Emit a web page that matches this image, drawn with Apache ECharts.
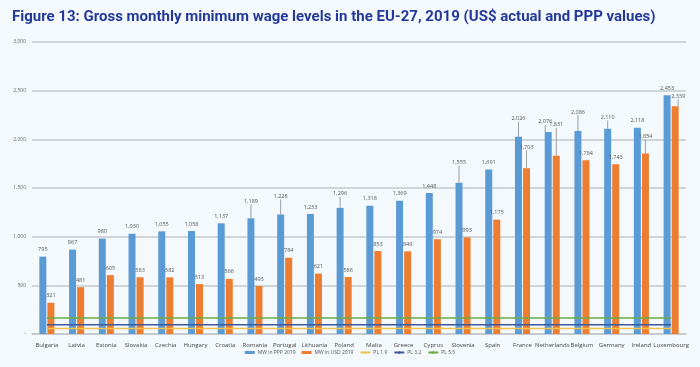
<!DOCTYPE html>
<html><head><meta charset="utf-8">
<script src="https://cdn.jsdelivr.net/npm/echarts@6/dist/echarts.min.js"></script>
<style>html,body{margin:0;padding:0;background:#f4f9fd;}#c{width:700px;height:367px;}</style>
</head><body><div id="c"></div>
<script>
const countries = ['Bulgaria','Latvia','Estonia','Slovakia','Czechia','Hungary','Croatia','Romania','Portugal','Lithuania','Poland','Malta','Greece','Cyprus','Slovenia','Spain','France','Netherlands','Belgium','Germany','Ireland','Luxembourg'];
const mwPPP = [795,867,980,1030,1055,1058,1137,1189,1228,1233,1296,1318,1369,1448,1555,1691,2026,2076,2086,2110,2118,2453];
const mwUSD = [321,481,605,583,582,513,566,493,784,621,586,853,849,974,993,1175,1703,1831,1784,1743,1854,2339];
const pl19 = 57, pl32 = 96, pl55 = 165;

// label nudges (layout only): [dx, dy]
const pppShift = {7:[0,-10],8:[0,-11],10:[0,-7],14:[0,-13],16:[0,-11],17:[-3,-3],18:[0,-12],19:[0,-4]};
const usdShift = {16:[0,-14],17:[0,-24],20:[0,-10],21:[3,-3]};

const fmt = v => v.toLocaleString('en-US');
function mk(arr, shifts){
  return arr.map((v,i)=> ({value:v, labelLine:{show: !!shifts[i]}}));
}
const chart = echarts.init(document.getElementById('c'));
const labelStyle = {show:true, position:'top', distance:4, fontSize:5.5, color:'#555', fontFamily:'Open Sans', formatter:p=>fmt(p.value)};
chart.setOption({
  backgroundColor:'#f4f9fd',
  animation:false,
  title:{text:'Figure 13: Gross monthly minimum wage levels in the EU-27, 2019 (US$ actual and PPP values)', left:7, top:5,
    textStyle:{fontFamily:'Roboto', fontWeight:'bold', fontSize:15, color:'#24399a'}},
  legend:{bottom:7, left:'center', itemGap:6, itemWidth:10, itemHeight:3, textStyle:{fontSize:5, color:'#555', fontFamily:'Open Sans', padding:[0,0,0,-2]},
    data:[{name:'MW in PPP 2019', icon:'rect'},{name:'MW in USD 2019', icon:'rect'},{name:'PL 1.9'},{name:'PL 3.2'},{name:'PL 5.5'}]},
  grid:{left:32, right:14, top:42, bottom:33},
  xAxis:{type:'category', data:countries, axisTick:{show:false}, axisLine:{lineStyle:{color:'#c4c8cc', width:1.5}},
    axisLabel:{fontSize:6, color:'#444', fontFamily:'Open Sans', margin:8, interval:0}},
  yAxis:{type:'value', min:0, max:3000, interval:500, axisLine:{show:false}, axisTick:{show:false},
    splitLine:{lineStyle:{color:'#c4c8cc', width:1.5}},
    axisLabel:{fontSize:5, color:'#666', fontFamily:'Open Sans', margin:6, formatter:v=> v===0?'-':fmt(v)}},
  series:[
    {name:'MW in PPP 2019', type:'bar', data:mk(mwPPP,pppShift), barWidth:7, barGap:'15%', itemStyle:{color:'#5b9bd5'},
      label:labelStyle, labelLine:{lineStyle:{color:'#888', width:0.8}},
      labelLayout:p=>{const s=pppShift[p.dataIndex]; return s?{dx:s[0],dy:s[1]}:null;}},
    {name:'MW in USD 2019', type:'bar', data:mk(mwUSD,usdShift), barWidth:7, itemStyle:{color:'#ed7d31'},
      label:labelStyle, labelLine:{lineStyle:{color:'#888', width:0.8}},
      labelLayout:p=>{const s=usdShift[p.dataIndex]; return s?{dx:s[0],dy:s[1]}:null;}},
    {name:'PL 1.9', type:'line', data:countries.map(()=>pl19), symbol:'none', lineStyle:{color:'#f2c14e', width:1.5}, itemStyle:{color:'#f2c14e'}},
    {name:'PL 3.2', type:'line', data:countries.map(()=>pl32), symbol:'none', lineStyle:{color:'#3d5a9e', width:1.5}, itemStyle:{color:'#3d5a9e'}},
    {name:'PL 5.5', type:'line', data:countries.map(()=>pl55), symbol:'none', lineStyle:{color:'#6aab45', width:1.5}, itemStyle:{color:'#6aab45'}}
  ]
});
</script></body></html>
